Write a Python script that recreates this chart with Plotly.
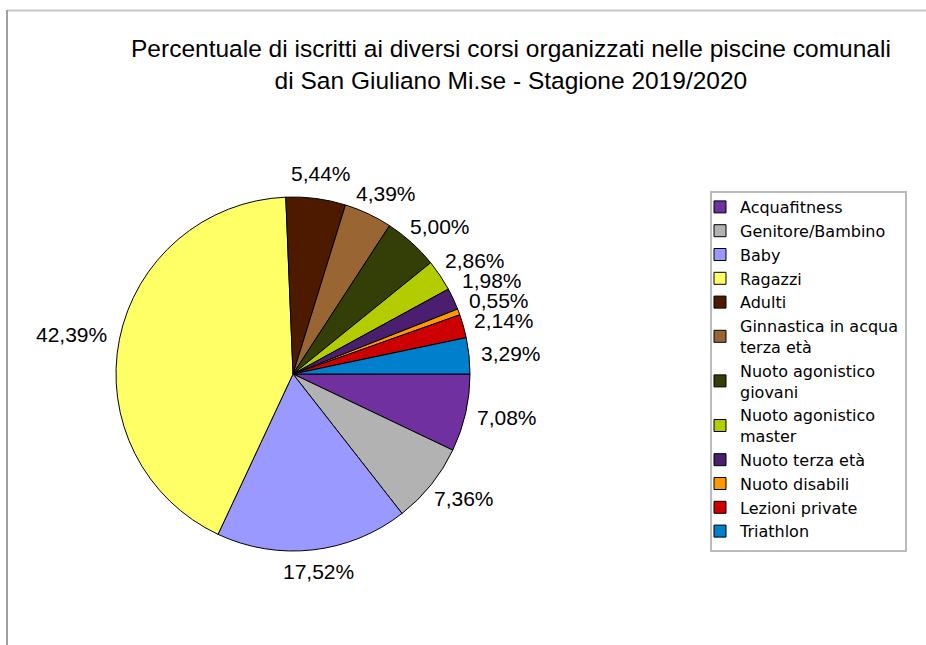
import math
import plotly.graph_objects as go

categories = ["Acquafitness", "Genitore/Bambino", "Baby", "Ragazzi", "Adulti",
              "Ginnastica in acqua<br>terza età", "Nuoto agonistico<br>giovani",
              "Nuoto agonistico<br>master", "Nuoto terza età", "Nuoto disabili",
              "Lezioni private", "Triathlon"]
values = [7.08, 7.36, 17.52, 42.39, 5.44, 4.39, 5.00, 2.86, 1.98, 0.55, 2.14, 3.29]
labels_text = ["7,08%", "7,36%", "17,52%", "42,39%", "5,44%", "4,39%", "5,00%",
               "2,86%", "1,98%", "0,55%", "2,14%", "3,29%"]
colors = ["#7030A0", "#B2B2B2", "#9999FF", "#FFFF66", "#4D1A00", "#996633",
          "#333F06", "#B3CC00", "#4B1F6F", "#FF9900", "#CC0000", "#0080CC"]

W, H = 926, 645
cx, cy, r = 293, 374, 177

fig = go.Figure(go.Pie(
    labels=categories, values=values,
    textinfo="none", hoverinfo="label+percent",
    sort=False, direction="clockwise", rotation=90,
    marker=dict(colors=colors, line=dict(color="black", width=1)),
    domain=dict(x=[(cx - r) / W, (cx + r) / W], y=[(H - cy - r) / H, (H - cy + r) / H]),
))

# outside-end labels derived from slice mid-angles
total = sum(values)
R = r + 12.5
pos = []
cum = 0.0
for v, t in zip(values, labels_text):
    mid = (cum + v / 2) / total * 2 * math.pi  # clockwise from east
    cum += v
    c, s = math.cos(mid), math.sin(mid)
    hw = 6.0 * len(t)
    hh = 9.5
    pos.append([cx + (R + hw) * c, cy + (R + hh) * s, c, s])

# simple collision pass for the crowded upper-right labels (bottom to top)
sep = 20
for i in range(len(pos) - 2, -1, -1):
    if pos[i][2] > 0 and pos[i][3] < 0 and pos[i + 1][2] > 0 and pos[i + 1][3] < 0:
        pos[i][1] = min(pos[i][1], pos[i + 1][1] - sep)

annotations = []
for (px, py, _, _), t in zip(pos, labels_text):
    annotations.append(dict(x=px / W, y=1 - py / H, xref="paper", yref="paper",
                            text=t, showarrow=False, xanchor="center", yanchor="middle",
                            font=dict(family="Liberation Sans, Arial, sans-serif", size=21, color="black")))

annotations.append(dict(
    x=511 / W, y=1 - 65 / H, xref="paper", yref="paper", showarrow=False,
    xanchor="center", yanchor="middle", align="center",
    text="Percentuale di iscritti ai diversi corsi organizzati nelle piscine comunali<br>di San Giuliano Mi.se - Stagione 2019/2020",
    font=dict(family="Liberation Sans, Arial, sans-serif", size=24.5, color="black")))

fig.update_layout(
    width=W, height=H,
    margin=dict(l=0, r=0, t=0, b=0),
    paper_bgcolor="white",
    annotations=annotations,
    legend=dict(x=700 / W, xanchor="left", y=1 - 190 / H, yanchor="top",
                bgcolor="rgba(0,0,0,0)", borderwidth=0,
                font=dict(family="DejaVu Sans, Verdana, sans-serif", size=16, color="black"),
                itemwidth=30, tracegroupgap=0),
    shapes=[
        dict(type="line", xref="paper", yref="paper", x0=7 / W, x1=1, y0=1 - 10.5 / H, y1=1 - 10.5 / H,
             line=dict(color="#C8C8C8", width=2)),
        dict(type="line", xref="paper", yref="paper", x0=7 / W, x1=7 / W, y0=0, y1=1 - 10 / H,
             line=dict(color="#A0A0A0", width=2)),
        dict(type="rect", xref="paper", yref="paper", x0=711 / W, x1=906 / W,
             y0=1 - 551 / H, y1=1 - 192 / H, line=dict(color="#BBBBBB", width=2), layer="below"),
    ],
)

fig.write_html("out.html", config={"displayModeBar": False},
               post_script="document.body.style.margin='0';document.body.style.overflow='hidden';")
